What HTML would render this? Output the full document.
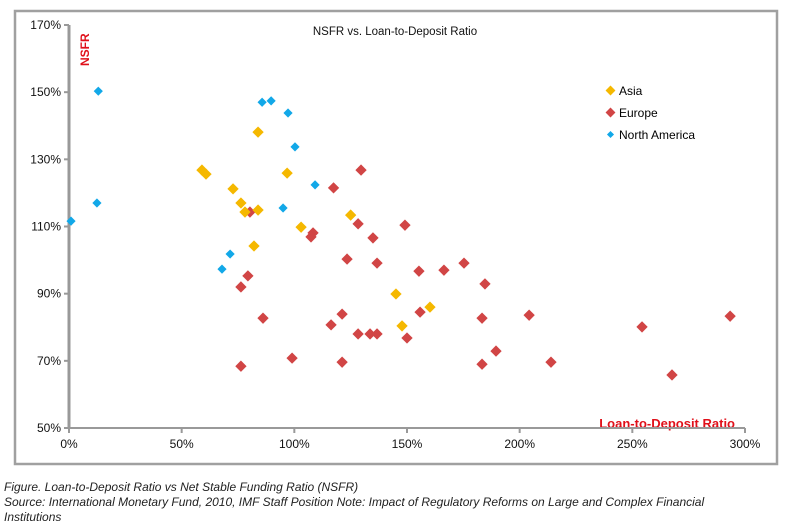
<!DOCTYPE html>
<html><head><meta charset="utf-8"><style>
body{margin:0;background:#fff;width:789px;height:528px;overflow:hidden;font-family:"Liberation Sans",sans-serif}
svg text{font-family:"Liberation Sans",sans-serif}
.cap{position:absolute;left:4px;font-size:12px;font-style:italic;color:#222;line-height:15px}
</style></head><body>
<svg id="chart" width="789" height="528" style="position:absolute;left:0;top:0">
<rect x="15" y="11" width="762" height="453" fill="#fff" stroke="#a0a0a0" stroke-width="2.5"/>
<text x="395" y="35" font-size="11.5" text-anchor="middle" fill="#111">NSFR vs. Loan-to-Deposit Ratio</text>
<text transform="translate(89,66) rotate(-90)" font-size="12" font-weight="bold" fill="#e0101a">NSFR</text>
<text x="735" y="428" font-size="13" font-weight="bold" fill="#e0101a" text-anchor="end">Loan-to-Deposit Ratio</text>
<g id="axes"></g><g id="marks"></g>
<g>
<rect x="607" y="87" width="7" height="7" transform="rotate(45 610.5 90.5)" fill="#f5b800"/><text x="619" y="95" font-size="12">Asia</text>
<rect x="607" y="109" width="7" height="7" transform="rotate(45 610.5 112.5)" fill="#d14545"/><text x="619" y="117" font-size="12">Europe</text>
<rect x="608" y="132" width="5" height="5" transform="rotate(45 610.5 134.5)" fill="#12a8e8"/><text x="619" y="139" font-size="12">North America</text>
</g>
</svg>
<div class="cap" style="top:480px">Figure. Loan-to-Deposit Ratio vs Net Stable Funding Ratio (NSFR)</div>
<div class="cap" style="top:495px">Source: International Monetary Fund, 2010, IMF Staff Position Note: Impact of Regulatory Reforms on Large and Complex Financial<br>Institutions</div>
<script>
const xTicks=[0,50,100,150,200,250,300];
const yTicks=[50,70,90,110,130,150,170];
const asiaX=[83.9,59,60.8,72.8,76.3,78.1,83.9,96.8,82.1,103,125,145.1,147.8,160.2];
const asiaY=[138.1,126.8,125.6,121.2,117,114.3,114.9,125.9,104.2,109.8,113.4,89.9,80.4,86];
const europeX=[129.6,117.4,80.3,128.3,108.3,107.4,134.9,149.1,123.4,136.7,155.3,166.4,175.3,184.6,79.4,76.3,86.1,116.3,121.2,155.8,183.3,204.2,254.3,293.4,128.3,133.6,136.7,150,189.5,99,121.2,76.3,183.3,213.9,267.6];
const europeY=[126.8,121.5,114.3,110.8,108.1,106.9,106.6,110.4,100.3,99.1,96.7,97,99.1,92.9,95.3,92,82.7,80.7,83.9,84.5,82.7,83.6,80.1,83.3,78,78,78,76.8,72.9,70.8,69.6,68.4,69,69.6,65.8];
const naX=[13,85.7,89.7,97.2,100.3,109.2,95,12.4,0.9,71.5,67.9];
const naY=[150.3,147,147.4,143.8,133.7,122.4,115.5,117,111.6,101.8,97.3];
const X=v=>69+v*(745-69)/300;
const Y=v=>428-(v-50)*(428-25)/120;
const NS="http://www.w3.org/2000/svg";
const ax=document.getElementById('axes'),mk=document.getElementById('marks');
function mkEl(t,a,p){const e=document.createElementNS(NS,t);for(const k in a)e.setAttribute(k,a[k]);p.appendChild(e);return e;}
let l=mkEl('line',{x1:X(0),x2:X(0),y1:Y(170),y2:Y(50),stroke:'#999','stroke-width':3},ax);


l=mkEl('line',{x1:X(0),x2:X(300),y1:Y(50),y2:Y(50),stroke:'#999','stroke-width':2},ax);


yTicks.forEach(v=>{
 mkEl('line',{x1:X(0)-5,x2:X(0),y1:Y(v),y2:Y(v),stroke:'#999','stroke-width':2},ax);
 const t=mkEl('text',{x:X(0)-8,y:Y(v)+4,'font-size':12,'text-anchor':'end',fill:'#111'},ax);
 t.textContent=v+'%';
 
 
});
xTicks.forEach(v=>{
 mkEl('line',{x1:X(v),x2:X(v),y1:Y(50),y2:Y(50)+5,stroke:'#999','stroke-width':2},ax);
 const t=mkEl('text',{x:X(v),y:Y(50)+20,'font-size':12,'text-anchor':'middle',fill:'#111'},ax);
 t.textContent=v+'%';
 
 
});
function series(xs,ys,col,s,name){
 xs.forEach((x,i)=>{
  const cx=X(x),cy=Y(ys[i]);
  const r=mkEl('rect',{x:cx-s/2,y:cy-s/2,width:s,height:s,fill:col,transform:`rotate(45 ${cx} ${cy})`},mk);
  
  
 });
}
series(europeX,europeY,'#d14545',8,'europe-point');
series(asiaX,asiaY,'#f5b800',8,'asia-point');
series(naX,naY,'#12a8e8',6.5,'north-america-point');
</script>
</body></html>
